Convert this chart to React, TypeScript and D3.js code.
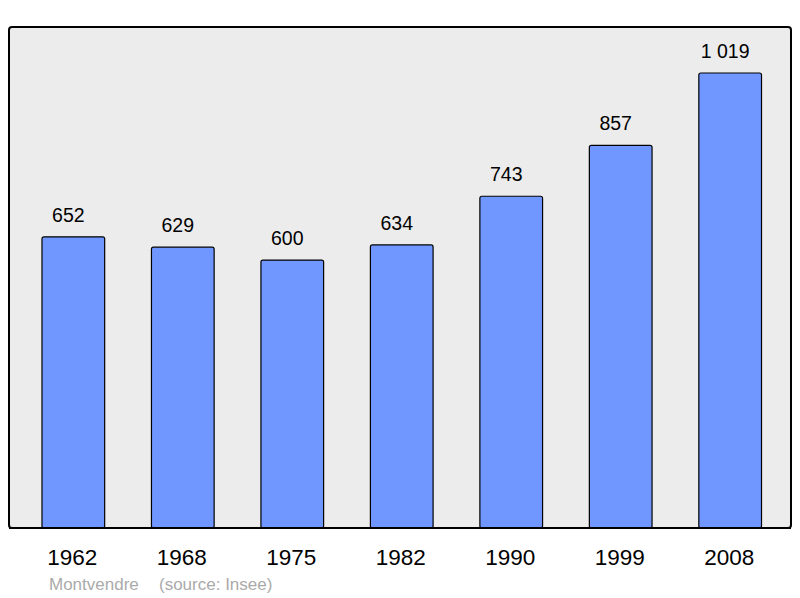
import React from "react";
import * as d3 from "d3";

const years = ["1962", "1968", "1975", "1982", "1990", "1999", "2008"];
const population = [652, 629, 600, 634, 743, 857, 1019];
const valueLabels = ["652", "629", "600", "634", "743", "857", "1 019"];
const footerName = "Montvendre";
const footerSource = "(source: Insee)";

const W = 800;
const H = 598;
const frame = { left: 9, top: 27, right: 791, bottom: 528 };

export default function App() {
  const x = d3
    .scaleBand<string>()
    .domain(years)
    .range([11, 792.5])
    .paddingInner(0.4274)
    .paddingOuter(0.283);
  const y = d3.scaleLinear().domain([0, 1122]).range([frame.bottom, frame.top]);
  const font = "'Liberation Sans', Arial, sans-serif";

  return (
    <svg
      width={W}
      height={H}
      style={{ position: "absolute", left: 0, top: 0, background: "#fff" }}
    >
      <rect
        x={frame.left}
        y={frame.top}
        width={frame.right - frame.left}
        height={frame.bottom - frame.top}
        rx={3}
        ry={3}
        fill="#ececec"
        stroke="#000"
        strokeWidth={2}
      />
      {years.map((yr, i) => {
        const bx = x(yr)!;
        const bw = x.bandwidth();
        const top = y(population[i]);
        return (
          <g key={yr}>
            <rect
              x={bx}
              y={top}
              width={bw}
              height={frame.bottom - top}
              rx={2}
              ry={2}
              fill="#7096ff"
              stroke="#000"
              strokeWidth={1.2}
            />
            <text
              x={bx + bw / 2 - 5}
              y={top - 15}
              textAnchor="middle"
              fontFamily={font}
              fontSize={19.5}
              fill="#000"
            >
              {valueLabels[i]}
            </text>
            <text
              x={bx + bw / 2 - 1}
              y={565}
              textAnchor="middle"
              fontFamily={font}
              fontSize={22.5}
              fill="#000"
            >
              {yr}
            </text>
          </g>
        );
      })}
      <line
        x1={frame.left}
        x2={frame.right}
        y1={frame.bottom}
        y2={frame.bottom}
        stroke="#000"
        strokeWidth={2}
      />
      <text x={49} y={590} fontFamily={font} fontSize={17} fill="#aaaaaa">
        {footerName}
      </text>
      <text x={159} y={590} fontFamily={font} fontSize={17} fill="#aaaaaa">
        {footerSource}
      </text>
    </svg>
  );
}
